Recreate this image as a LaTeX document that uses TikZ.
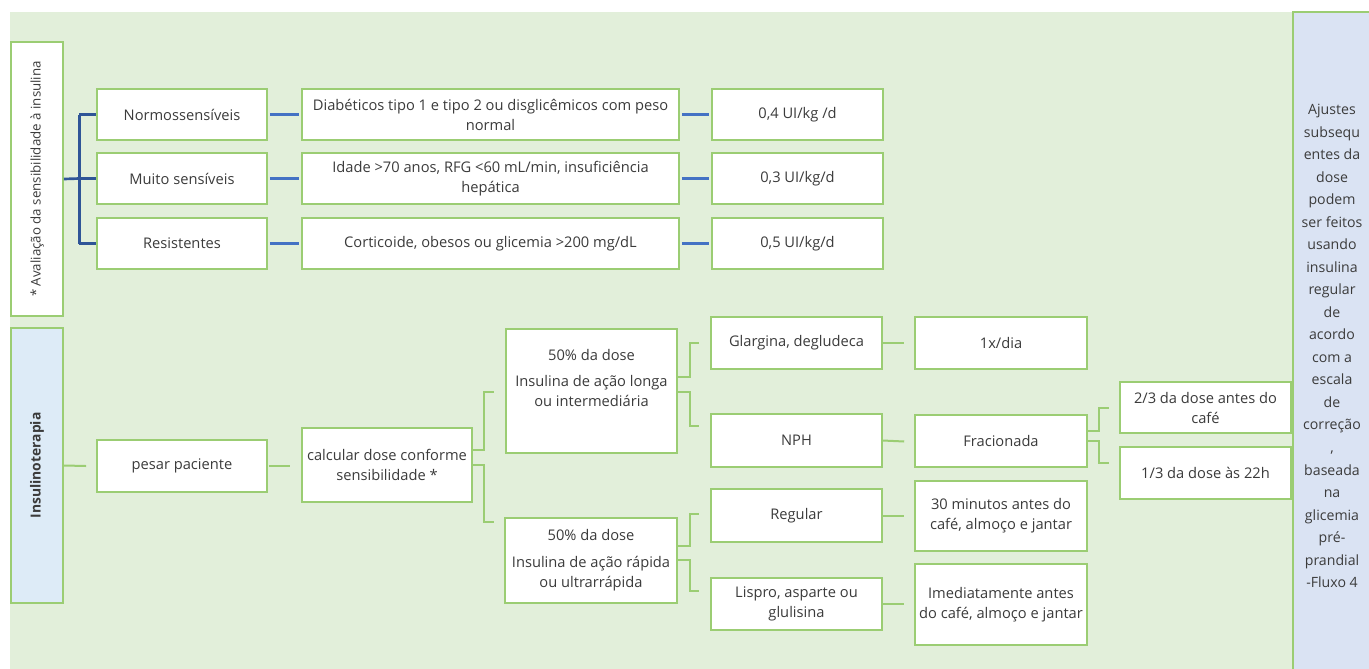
\documentclass[tikz,border=0pt]{standalone}
\usepackage{fontspec}
\setmainfont{Open Sans}
\usetikzlibrary{calc}
\definecolor{panelgreen}{HTML}{E2EFDA}
\definecolor{bordergreen}{RGB}{155,205,115}
\definecolor{txt}{HTML}{3B3B3B}
\definecolor{lightblue}{HTML}{DDEBF7}
\definecolor{sideblue}{HTML}{DAE3F3}
\definecolor{trunkblue}{RGB}{47,85,151}
\definecolor{linkblue}{RGB}{68,114,196}
\tikzset{
  box/.style={draw=bordergreen, line width=1.2pt, fill=white, text=txt, align=center,
    inner sep=2pt, font=\fontsize{11}{15}\selectfont},
  gline/.style={draw=bordergreen, line width=1.5pt},
  bline/.style={draw=linkblue, line width=1.9pt},
  tline/.style={draw=trunkblue, line width=2pt},
}
\begin{document}
\begin{tikzpicture}[x=0.75pt,y=-0.75pt]
\useasboundingbox (0,0) rectangle (1369,668);
\clip (0,0) rectangle (1369,668);
% background panels
\fill[panelgreen] (10,12) rectangle (1293,680);
\draw[bordergreen, line width=1.2pt, fill=sideblue] (1293,12) rectangle (1380,680);
\node[text=txt, align=center, font=\fontsize{10.6}{16.9}\selectfont] (side) at (1332,346)
  {Ajustes\\subsequ\\entes da\\dose\\podem\\ser feitos\\usando\\insulina\\regular\\de\\acordo\\com a\\escala\\de\\correção\\,\\baseada\\na\\glicemia\\pré-\\prandial\\-Fluxo 4};

% left headers
\node[box, minimum width=39pt, minimum height=205.5pt] (av) at (37,179) {};
\node[text=txt, rotate=90, font=\fontsize{10}{14}\selectfont] at (av.center) {* Avaliação da sensibilidade à insulina};
\node[box, fill=lightblue, minimum width=39pt, minimum height=206.25pt] (ins) at (37,465.5) {};
\node[text=txt, rotate=90, font=\fontsize{10.4}{14}\selectfont\bfseries] at (ins.center) {Insulinoterapia};

% top section
\node[box, minimum width=127.5pt, minimum height=38.25pt] (n1) at (182,114.5) {Normossensíveis};
\node[box, minimum width=127.5pt, minimum height=38.25pt] (n2) at (182,178.5) {Muito sensíveis};
\node[box, minimum width=127.5pt, minimum height=38.25pt] (n3) at (182,243.5) {Resistentes};
\node[box, minimum width=282.75pt, minimum height=38.25pt] (d1) at (490.5,114.5) {Diabéticos tipo 1 e tipo 2 ou disglicêmicos com peso\\normal};
\node[box, minimum width=282.75pt, minimum height=38.25pt] (d2) at (490.5,178.5) {Idade >70 anos, RFG <60 mL/min, insuficiência\\hepática};
\node[box, minimum width=282.75pt, minimum height=38.25pt] (d3) at (490.5,243.5) {Corticoide, obesos ou glicemia >200 mg/dL};
\node[box, minimum width=128.25pt, minimum height=38.25pt] (u1) at (797.5,114.5) {0,4 UI/kg /d};
\node[box, minimum width=128.25pt, minimum height=38.25pt] (u2) at (797.5,178.5) {0,3 UI/kg/d};
\node[box, minimum width=128.25pt, minimum height=38.25pt] (u3) at (797.5,243.5) {0,5 UI/kg/d};

\draw[tline] (av.east) -- ($(n2.west)+(-17,0)$);
\draw[tline] ($(n1.west)+(-17,0)$) -- ($(n3.west)+(-17,0)$);
\draw[tline] ($(n1.west)+(-17,0)$) -- (n1.west);
\draw[tline] ($(n2.west)+(-17,0)$) -- (n2.west);
\draw[tline] ($(n3.west)+(-17,0)$) -- (n3.west);
\foreach \a/\b in {n1/d1,n2/d2,n3/d3,d1/u1,d2/u2,d3/u3}
  \draw[bline, shorten <=1.5pt, shorten >=1.5pt] (\a.east) -- (\b.west);

% bottom section
\node[box, minimum width=127.5pt, minimum height=39pt] (pesar) at (182,466) {pesar paciente};
\node[box, minimum width=127.5pt, minimum height=55.5pt] (calc) at (387,465) {calcular dose conforme\\sensibilidade *};
\node[box, minimum width=128.25pt, minimum height=93pt] (h1) at (591.5,391) {};
\node[text=txt, align=center, font=\fontsize{11}{15}\selectfont] at (591.5,378) {50\% da dose\\[5pt]Insulina de ação longa\\ou intermediária};
\node[box, minimum width=129pt, minimum height=63.75pt] (h2) at (591,560.5) {50\% da dose\\[5pt]Insulina de ação rápida\\ou ultrarrápida};
\node[box, minimum width=128.25pt, minimum height=39pt] (glar) at (796.5,343) {Glargina, degludeca};
\node[box, minimum width=128.25pt, minimum height=39.75pt] (nph) at (796.5,440.5) {NPH};
\node[box, minimum width=128.25pt, minimum height=39.75pt] (reg) at (796.5,515.5) {Regular};
\node[box, minimum width=128.25pt, minimum height=39pt] (lis) at (796.5,604) {Lispro, asparte ou\\glulisina};
\node[box, minimum width=129pt, minimum height=39pt] (dia) at (1001,343) {1x/dia};
\node[box, minimum width=129pt, minimum height=39pt] (frac) at (1001,441) {Fracionada};
\node[box, minimum width=129pt, minimum height=52.5pt] (min) at (1001,516) {30 minutos antes do\\café, almoço e jantar};
\node[box, minimum width=129pt, minimum height=60.75pt] (imed) at (1001,604.5) {Imediatamente antes\\do café, almoço e jantar};
\node[box, minimum width=128.25pt, minimum height=38.25pt] (t23) at (1205.5,407.5) {2/3 da dose antes do\\café};
\node[box, minimum width=128.25pt, minimum height=39pt] (t13) at (1205.5,473) {1/3 da dose às 22h};

% green connectors
\draw[gline] (ins.east) -- ($(pesar.west)+(-10,0)$);
\draw[gline] ($(pesar.east)+(1,0)$) -- ($(calc.west)+(-11,1)$);
\draw[gline] ($(calc.east)+(0,-15)$) -- ++(11,0) |- ($(h1.west)+(-11,1)$);
\draw[gline] (calc.east) -- ++(11,0) |- ($(h2.north west)+(-10,5)$);
\draw[gline] ($(h1.east)+(0,-14)$) -- ++(12,0) |- ($(glar.west)+(-11,0)$);
\draw[gline] ($(h1.east)+(0,1)$) -- ++(12,0) |- ($(nph.west)+(-11,-14.5)$);
\draw[gline] ($(h2.east)+(0,-14.5)$) -- ++(12,0) |- ($(reg.west)+(-11,-1.5)$);
\draw[gline] ($(h2.east)+(0,-0.5)$) -- ++(12,0) |- ($(lis.west)+(-11,-13)$);
\draw[gline] (glar.east) -- ($(dia.west)+(-10,0)$);
\draw[gline] (nph.east) -- ($(frac.west)+(-10,0.5)$);
\draw[gline] (reg.east) -- ($(min.west)+(-10,-0.5)$);
\draw[gline] (lis.east) -- ($(imed.west)+(-10,-0.5)$);
\draw[gline] ($(frac.east)+(0,-10)$) -- ++(11,0) |- ($(t23.west)+(-10,0.5)$);
\draw[gline] (frac.east) -- ++(11,0) |- ($(t13.west)+(-10,-10)$);
\end{tikzpicture}
\end{document}
